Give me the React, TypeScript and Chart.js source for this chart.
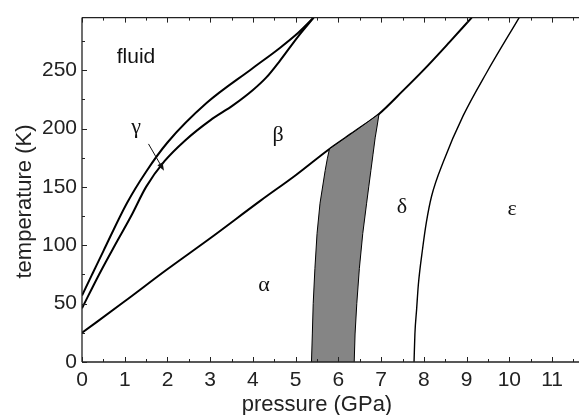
import { useEffect, useRef } from 'react';
import { Chart, registerables } from 'chart.js';

Chart.register(...registerables);

// ---- phase boundaries (pressure GPa, temperature K) ----
const fluidGammaP = [0, 0.25, 0.5, 1.05, 1.5, 2.0, 2.92, 3.97, 4.63, 5.06, 5.42];
const fluidGammaT = [57, 76, 95, 136, 163, 188, 222, 251, 269, 282, 295];

const gammaBetaP = [0, 0.4, 0.77, 1.15, 1.5, 1.93, 2.42, 3.0, 3.54, 4.0, 4.32, 4.63, 5.06, 5.42];
const gammaBetaT = [46, 75, 100, 125, 150, 172, 190, 207, 220, 233, 244, 258, 279, 295];

const alphaBetaDeltaP = [0, 1.0, 1.98, 3.0, 4.17, 5.0, 5.79, 6.4, 6.95, 7.5, 7.99, 8.6, 9.12];
const alphaBetaDeltaT = [25, 52, 79, 106, 138, 160, 182.5, 198, 212.5, 232, 250, 274, 295];

const deltaEpsilonP = [7.77, 7.79, 7.83, 7.87, 7.97, 8.06, 8.18, 8.46, 8.92, 9.47, 10.23];
const deltaEpsilonT = [0, 24, 45, 66, 97, 120, 142, 172, 211, 248, 295];

// grey coexistence band (closed outline: left edge up, top edge, right edge down)
const bandP = [5.37, 5.39, 5.41, 5.45, 5.5, 5.57, 5.69, 5.74, 5.79, 6.4, 6.95, 6.91, 6.86, 6.81, 6.76, 6.71, 6.66, 6.57, 6.49, 6.43, 6.39, 6.37];
const bandT = [0, 24, 50, 80, 110, 136, 164, 174, 182.5, 198, 212.5, 203, 192, 178, 164, 150, 136, 110, 80, 50, 24, 0];

// ---- axis ticks ----
const xTickValues = [0, 1, 2, 3, 4, 5, 6, 7, 8, 9, 10, 11];
const xMinorTicks = [0.5, 1.5, 2.5, 3.5, 4.5, 5.5, 6.5, 7.5, 8.5, 9.5, 10.5, 11.5];
const yTickValues = [0, 50, 100, 150, 200, 250];
const yMinorTicks = [25, 75, 125, 175, 225, 275];

// ---- labels (text, pressure, temperature at baseline) ----
const phaseLabels = ['γ', 'β', 'α', 'δ', 'ε'];
const phaseLabelP = [1.264, 4.587, 4.259, 7.489, 10.063];
const phaseLabelT = [196.3, 189.6, 60.4, 127.5, 125.8];
const fluidLabel = 'fluid';
const fluidLabelP = 1.264;
const fluidLabelT = 255.9;
const arrowP = [1.556, 1.919];
const arrowT = [186.8, 163.8];

const xTitle = 'pressure (GPa)';
const yTitle = 'temperature (K)';

const SANS = "'Liberation Sans', Arial, Helvetica, sans-serif";
const SERIF = "'Liberation Serif', 'Times New Roman', serif";

const pts = (p: number[], t: number[]) => p.map((v, i) => ({ x: v, y: t[i] }));

const decorPlugin = {
  id: 'decor',
  afterDatasetsDraw(chart: any) {
    const { ctx, chartArea } = chart;
    const xs = chart.scales.x;
    const ys = chart.scales.y;
    const { left, right, top, bottom } = chartArea;
    ctx.save();
    // axes lines
    ctx.strokeStyle = '#222';
    ctx.lineWidth = 1.3;
    ctx.beginPath();
    ctx.moveTo(left, top);
    ctx.lineTo(right, top);
    ctx.moveTo(left, bottom);
    ctx.lineTo(right, bottom);
    ctx.moveTo(left, top);
    ctx.lineTo(left, bottom);
    ctx.stroke();
    // ticks (inward)
    ctx.lineWidth = 1;
    ctx.beginPath();
    const xt = (v: number, len: number) => {
      const px = Math.round(xs.getPixelForValue(v)) + 0.5;
      ctx.moveTo(px, bottom);
      ctx.lineTo(px, bottom - len);
      ctx.moveTo(px, top);
      ctx.lineTo(px, top + len);
    };
    xTickValues.forEach((v) => xt(v, 5));
    xMinorTicks.forEach((v) => xt(v, 3));
    const yt = (v: number, len: number) => {
      const py = Math.round(ys.getPixelForValue(v)) + 0.5;
      ctx.moveTo(left, py);
      ctx.lineTo(left + len, py);
    };
    yTickValues.forEach((v) => yt(v, 5));
    yMinorTicks.forEach((v) => yt(v, 3));
    ctx.stroke();

    // phase labels
    ctx.fillStyle = '#111';
    ctx.textAlign = 'center';
    ctx.textBaseline = 'alphabetic';
    ctx.font = `22px ${SERIF}`;
    phaseLabels.forEach((s, i) => {
      ctx.fillText(s, xs.getPixelForValue(phaseLabelP[i]), ys.getPixelForValue(phaseLabelT[i]));
    });
    ctx.font = `21px ${SANS}`;
    ctx.fillText(fluidLabel, xs.getPixelForValue(fluidLabelP), ys.getPixelForValue(fluidLabelT));

    // arrow
    const ax0 = xs.getPixelForValue(arrowP[0]);
    const ay0 = ys.getPixelForValue(arrowT[0]);
    const ax1 = xs.getPixelForValue(arrowP[1]);
    const ay1 = ys.getPixelForValue(arrowT[1]);
    const ang = Math.atan2(ay1 - ay0, ax1 - ax0);
    ctx.strokeStyle = '#111';
    ctx.lineWidth = 1;
    ctx.beginPath();
    ctx.moveTo(ax0, ay0);
    ctx.lineTo(ax1 - 5 * Math.cos(ang), ay1 - 5 * Math.sin(ang));
    ctx.stroke();
    ctx.beginPath();
    ctx.moveTo(ax1, ay1);
    ctx.lineTo(ax1 - 8 * Math.cos(ang) + 3 * Math.sin(ang), ay1 - 8 * Math.sin(ang) - 3 * Math.cos(ang));
    ctx.lineTo(ax1 - 8 * Math.cos(ang) - 3 * Math.sin(ang), ay1 - 8 * Math.sin(ang) + 3 * Math.cos(ang));
    ctx.closePath();
    ctx.fillStyle = '#111';
    ctx.fill();

    // axis titles
    ctx.fillStyle = '#222';
    ctx.font = `22px ${SANS}`;
    ctx.textAlign = 'center';
    ctx.textBaseline = 'alphabetic';
    ctx.fillText(xTitle, 317, 411);
    ctx.translate(31, 201.5);
    ctx.rotate(-Math.PI / 2);
    ctx.fillText(yTitle, 0, 0);
    ctx.restore();
  },
};

export default function App() {
  const ref = useRef<HTMLCanvasElement | null>(null);
  useEffect(() => {
    if (!ref.current) return;
    const line = (p: number[], t: number[], w: number) => ({
      data: pts(p, t),
      showLine: true,
      borderColor: '#000',
      borderWidth: w,
      pointRadius: 0,
      cubicInterpolationMode: 'monotone',
      fill: false,
    });
    const chart = new Chart(ref.current, {
      type: 'scatter',
      data: {
        datasets: [
          {
            data: pts(bandP, bandT),
            showLine: true,
            borderColor: '#000',
            borderWidth: 1,
            backgroundColor: '#858585',
            pointRadius: 0,
            tension: 0,
            fill: 'shape',
          } as any,
          line(fluidGammaP, fluidGammaT, 2),
          line(gammaBetaP, gammaBetaT, 2),
          line(alphaBetaDeltaP, alphaBetaDeltaT, 2),
          line(deltaEpsilonP, deltaEpsilonT, 1.4),
        ],
      },
      options: {
        animation: false,
        responsive: true,
        maintainAspectRatio: false,
        layout: { padding: { top: 11, right: 0, left: 0, bottom: 0 } },
        plugins: { legend: { display: false }, tooltip: { enabled: false } },
        scales: {
          x: {
            type: 'linear',
            min: 0,
            max: 11.63,
            afterBuildTicks: (s: any) => {
              s.ticks = xTickValues.map((v) => ({ value: v }));
            },
            afterFit: (s: any) => {
              s.height = 53;
            },
            grid: { display: false, drawTicks: false },
            border: { display: false },
            ticks: { font: { family: SANS, size: 21 }, color: '#222', padding: 6, maxRotation: 0, autoSkip: false },
          },
          y: {
            type: 'linear',
            min: 0,
            max: 295,
            afterBuildTicks: (s: any) => {
              s.ticks = yTickValues.map((v) => ({ value: v }));
            },
            afterFit: (s: any) => {
              s.width = 82;
            },
            grid: { display: false, drawTicks: false },
            border: { display: false },
            ticks: { font: { family: SANS, size: 21 }, color: '#222', padding: 5, autoSkip: false },
          },
        },
      } as any,
      plugins: [decorPlugin],
    });
    return () => chart.destroy();
  }, []);
  return (
    <div style={{ position: 'absolute', left: 0, top: 0, width: 579, height: 415, background: '#fff' }}>
      <canvas ref={ref} />
    </div>
  );
}
